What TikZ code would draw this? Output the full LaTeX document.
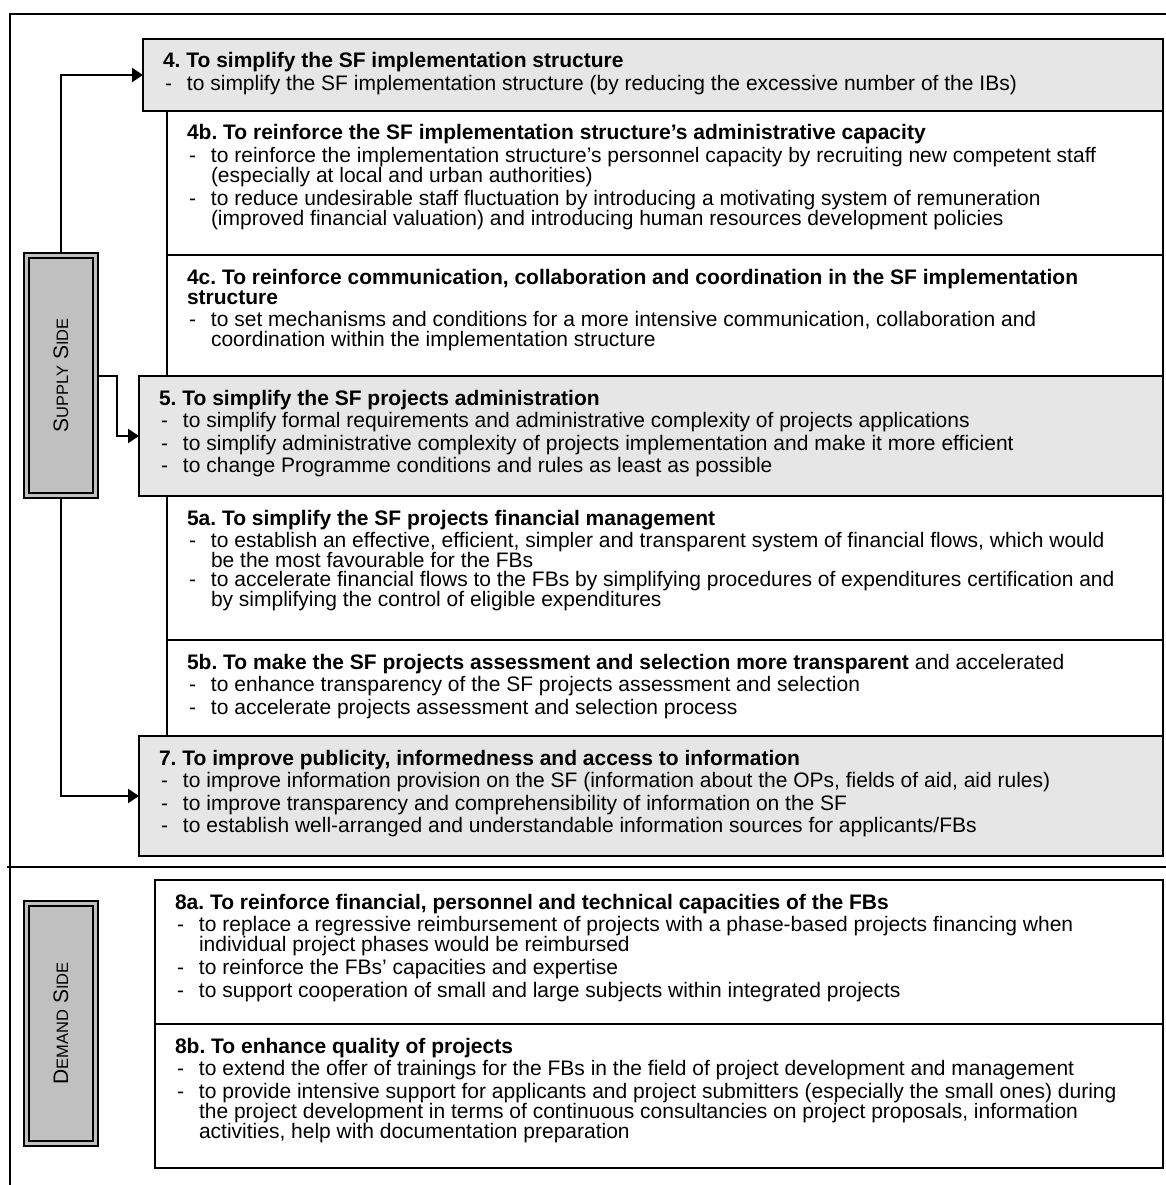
\documentclass[tikz,border=0pt]{standalone}
\usepackage{fontspec}
\setmainfont{Liberation Sans}
\usetikzlibrary{arrows.meta, positioning}

\definecolor{boxgray}{HTML}{E6E6E6}
\definecolor{sidegray}{HTML}{C0C0C0}

\newcommand{\bodyfont}{\fontsize{21}{20}\selectfont}
\newcommand{\smcap}[1]{{\fontsize{16.5}{16.5}\selectfont #1}}
% box text: width, height, lines
\newcommand{\cell}[3]{\parbox[c][#2][t]{#1}{\raggedright\vspace*{13pt}\rule{0pt}{16pt}#3}}
\newcommand{\itm}[1]{\\[2.5pt]\makebox[24pt][l]{\hspace{2pt}-}\parbox[t]{\dimexpr\linewidth-24pt\relax}{\raggedright #1}}

\tikzstyle{box} = [rectangle, draw=black, line width=2pt, inner xsep=20pt, inner ysep=0pt, outer sep=0pt, anchor=north west, font=\bodyfont]
\tikzstyle{mainbox} = [box, fill=boxgray]
\tikzstyle{sidebox} = [rectangle, draw=black, line width=2pt, double=sidegray, double distance=2.5pt, fill=sidegray, minimum width=69pt, minimum height=240pt, outer sep=3.25pt, font=\fontsize{21}{21}\selectfont]
\tikzstyle{arrow} = [line width=2pt, -{Triangle[length=11pt,width=14pt]}]

\frenchspacing
\begin{document}
\begin{tikzpicture}[x=1pt, y=-1pt]
    \useasboundingbox (0,0) rectangle (1166,1185);

    % frame and divider
    \draw [line width=2pt] (10,1185) |- (1166,14);
    \draw [line width=2.5pt] (7,867) -- (1166,867);

    % supply side
    \node (b4) [mainbox] at (143,39) {\cell{980pt}{72pt}{\textbf{4. To simplify the SF implementation structure}
      \itm{to simplify the SF implementation structure (by reducing the excessive number of the IBs)}}};
    \node (b4b) [box] at ([xshift=24pt]b4.south west) {\cell{956pt}{144pt}{\textbf{4b. To reinforce the SF implementation structure’s administrative capacity}
      \itm{to reinforce the implementation structure’s personnel capacity by recruiting new competent staff\\
        (especially at local and urban authorities)}
      \itm{to reduce undesirable staff fluctuation by introducing a motivating system of remuneration\\
        (improved financial valuation) and introducing human resources development policies}}};
    \node (b4c) [box] at (b4b.south west) {\cell{956pt}{121pt}{\textbf{4c. To reinforce communication, collaboration and coordination in the SF implementation}\\\textbf{structure}
      \itm{to set mechanisms and conditions for a more intensive communication, collaboration and\\
        coordination within the implementation structure}}};
    \node (b5) [mainbox] at ([xshift=-28pt]b4c.south west) {\cell{984pt}{120pt}{\textbf{5. To simplify the SF projects administration}
      \itm{to simplify formal requirements and administrative complexity of projects applications}
      \itm{to simplify administrative complexity of projects implementation and make it more efficient}
      \itm{to change Programme conditions and rules as least as possible}}};
    \node (b5a) [box] at ([xshift=28pt]b5.south west) {\cell{956pt}{144pt}{\textbf{5a. To simplify the SF projects financial management}
      \itm{to establish an effective, efficient, simpler and transparent system of financial flows, which would\\
        be the most favourable for the FBs}
      \itm{to accelerate financial flows to the FBs by simplifying procedures of expenditures certification and\\
        by simplifying the control of eligible expenditures}}};
    \node (b5b) [box] at (b5a.south west) {\cell{956pt}{96pt}{\textbf{5b. To make the SF projects assessment and selection more transparent} and accelerated
      \itm{to enhance transparency of the SF projects assessment and selection}
      \itm{to accelerate projects assessment and selection process}}};
    \node (b7) [mainbox] at ([xshift=-28pt]b5b.south west) {\cell{984pt}{120pt}{\textbf{7. To improve publicity, informedness and access to information}
      \itm{to improve information provision on the SF (information about the OPs, fields of aid, aid rules)}
      \itm{to improve transparency and comprehensibility of information on the SF}
      \itm{to establish well-arranged and understandable information sources for applicants/FBs}}};

    % demand side
    \node (b8a) [box] at (155,880) {\cell{968pt}{144pt}{\textbf{8a. To reinforce financial, personnel and technical capacities of the FBs}
      \itm{to replace a regressive reimbursement of projects with a phase-based projects financing when\\
        individual project phases would be reimbursed}
      \itm{to reinforce the FBs’ capacities and expertise}
      \itm{to support cooperation of small and large subjects within integrated projects}}};
    \node (b8b) [box] at (b8a.south west) {\cell{968pt}{144pt}{\textbf{8b. To enhance quality of projects}
      \itm{to extend the offer of trainings for the FBs in the field of project development and management}
      \itm{to provide intensive support for applicants and project submitters (especially the small ones) during\\
        the project development in terms of continuous consultancies on project proposals, information\\
        activities, help with documentation preparation}}};

    \node (sup) [sidebox] at (61,375.5) {\rotatebox{90}{S\smcap{UPPLY} S\smcap{IDE}}};
    \node (dem) [sidebox] at (61,1023.5) {\rotatebox{90}{D\smcap{EMAND} S\smcap{IDE}}};

    \draw [arrow] (sup.north) |- (b4.west);
    \draw [arrow] (sup.east |- b5.north) -| ([xshift=-22pt]b5.west) -- (b5.west);
    \draw [arrow] (sup.south) |- (b7.west);
\end{tikzpicture}
\end{document}
